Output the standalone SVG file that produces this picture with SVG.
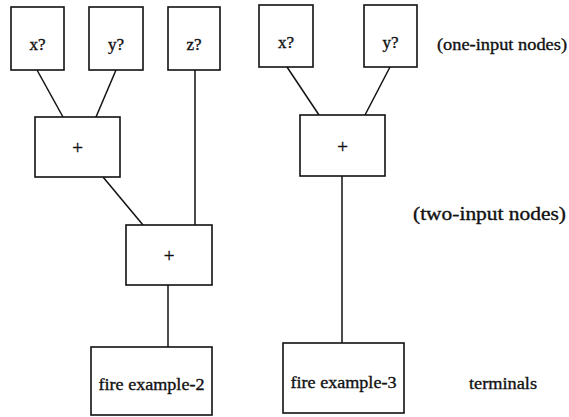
<svg xmlns="http://www.w3.org/2000/svg" width="569" height="417" viewBox="0 0 569 417">
<style>
.box{fill:#fff;stroke:#111;stroke-width:1.6}
.ln{stroke:#111;stroke-width:1.5;fill:none}
.t{fill:#111;stroke:#111;stroke-width:0.35;font-size:17px;font-family:'Liberation Serif','Times New Roman',serif}
.c{text-anchor:middle}
</style>
<rect width="569" height="417" fill="#fff"/>
<g id="connectors">
<line class="ln" x1="37" y1="70" x2="63" y2="117"/>
<line class="ln" x1="116" y1="70" x2="96" y2="117"/>
<line class="ln" x1="195" y1="70" x2="195" y2="225"/>
<line class="ln" x1="103" y1="177" x2="143" y2="225"/>
<line class="ln" x1="168" y1="285" x2="168" y2="347"/>
<line class="ln" x1="287" y1="67" x2="319" y2="115"/>
<line class="ln" x1="390" y1="67" x2="365" y2="115"/>
<line class="ln" x1="342" y1="176" x2="342" y2="343"/>
</g>
<g id="x1"><rect class="box" x="11" y="7" width="53" height="63"/><text class="t c" x="37.5" y="50">x?</text></g>
<g id="y1"><rect class="box" x="89" y="7" width="54" height="63"/><text class="t c" x="116" y="50">y?</text></g>
<g id="z1"><rect class="box" x="168" y="7" width="52" height="63"/><text class="t c" x="194" y="50">z?</text></g>
<g id="x2"><rect class="box" x="259" y="5" width="54" height="62"/><text class="t c" x="286" y="48">x?</text></g>
<g id="y2"><rect class="box" x="364" y="5" width="53" height="62"/><text class="t c" x="390.5" y="48">y?</text></g>
<g id="plus1"><rect class="box" x="35" y="117" width="85" height="60"/><text class="t c" x="77.5" y="154" style="font-size:19px">+</text></g>
<g id="plus2"><rect class="box" x="126" y="225" width="86" height="60"/><text class="t c" x="169" y="262" style="font-size:19px">+</text></g>
<g id="plus3"><rect class="box" x="300" y="115" width="85" height="61"/><text class="t c" x="342.5" y="153" style="font-size:19px">+</text></g>
<g id="fire2"><rect class="box" x="91" y="347" width="121" height="68"/><text class="t c" x="151.5" y="390" textLength="106" lengthAdjust="spacingAndGlyphs">fire example-2</text></g>
<g id="fire3"><rect class="box" x="283" y="343" width="121" height="70"/><text class="t c" x="343.5" y="388" textLength="106" lengthAdjust="spacingAndGlyphs">fire example-3</text></g>
<g id="labels">
<text class="t" x="437" y="50" textLength="130" lengthAdjust="spacingAndGlyphs">(one-input nodes)</text>
<text class="t" x="413" y="220" textLength="153" lengthAdjust="spacingAndGlyphs" style="font-size:18px">(two-input nodes)</text>
<text class="t" x="469" y="389" textLength="68" lengthAdjust="spacingAndGlyphs">terminals</text>
</g>
</svg>
